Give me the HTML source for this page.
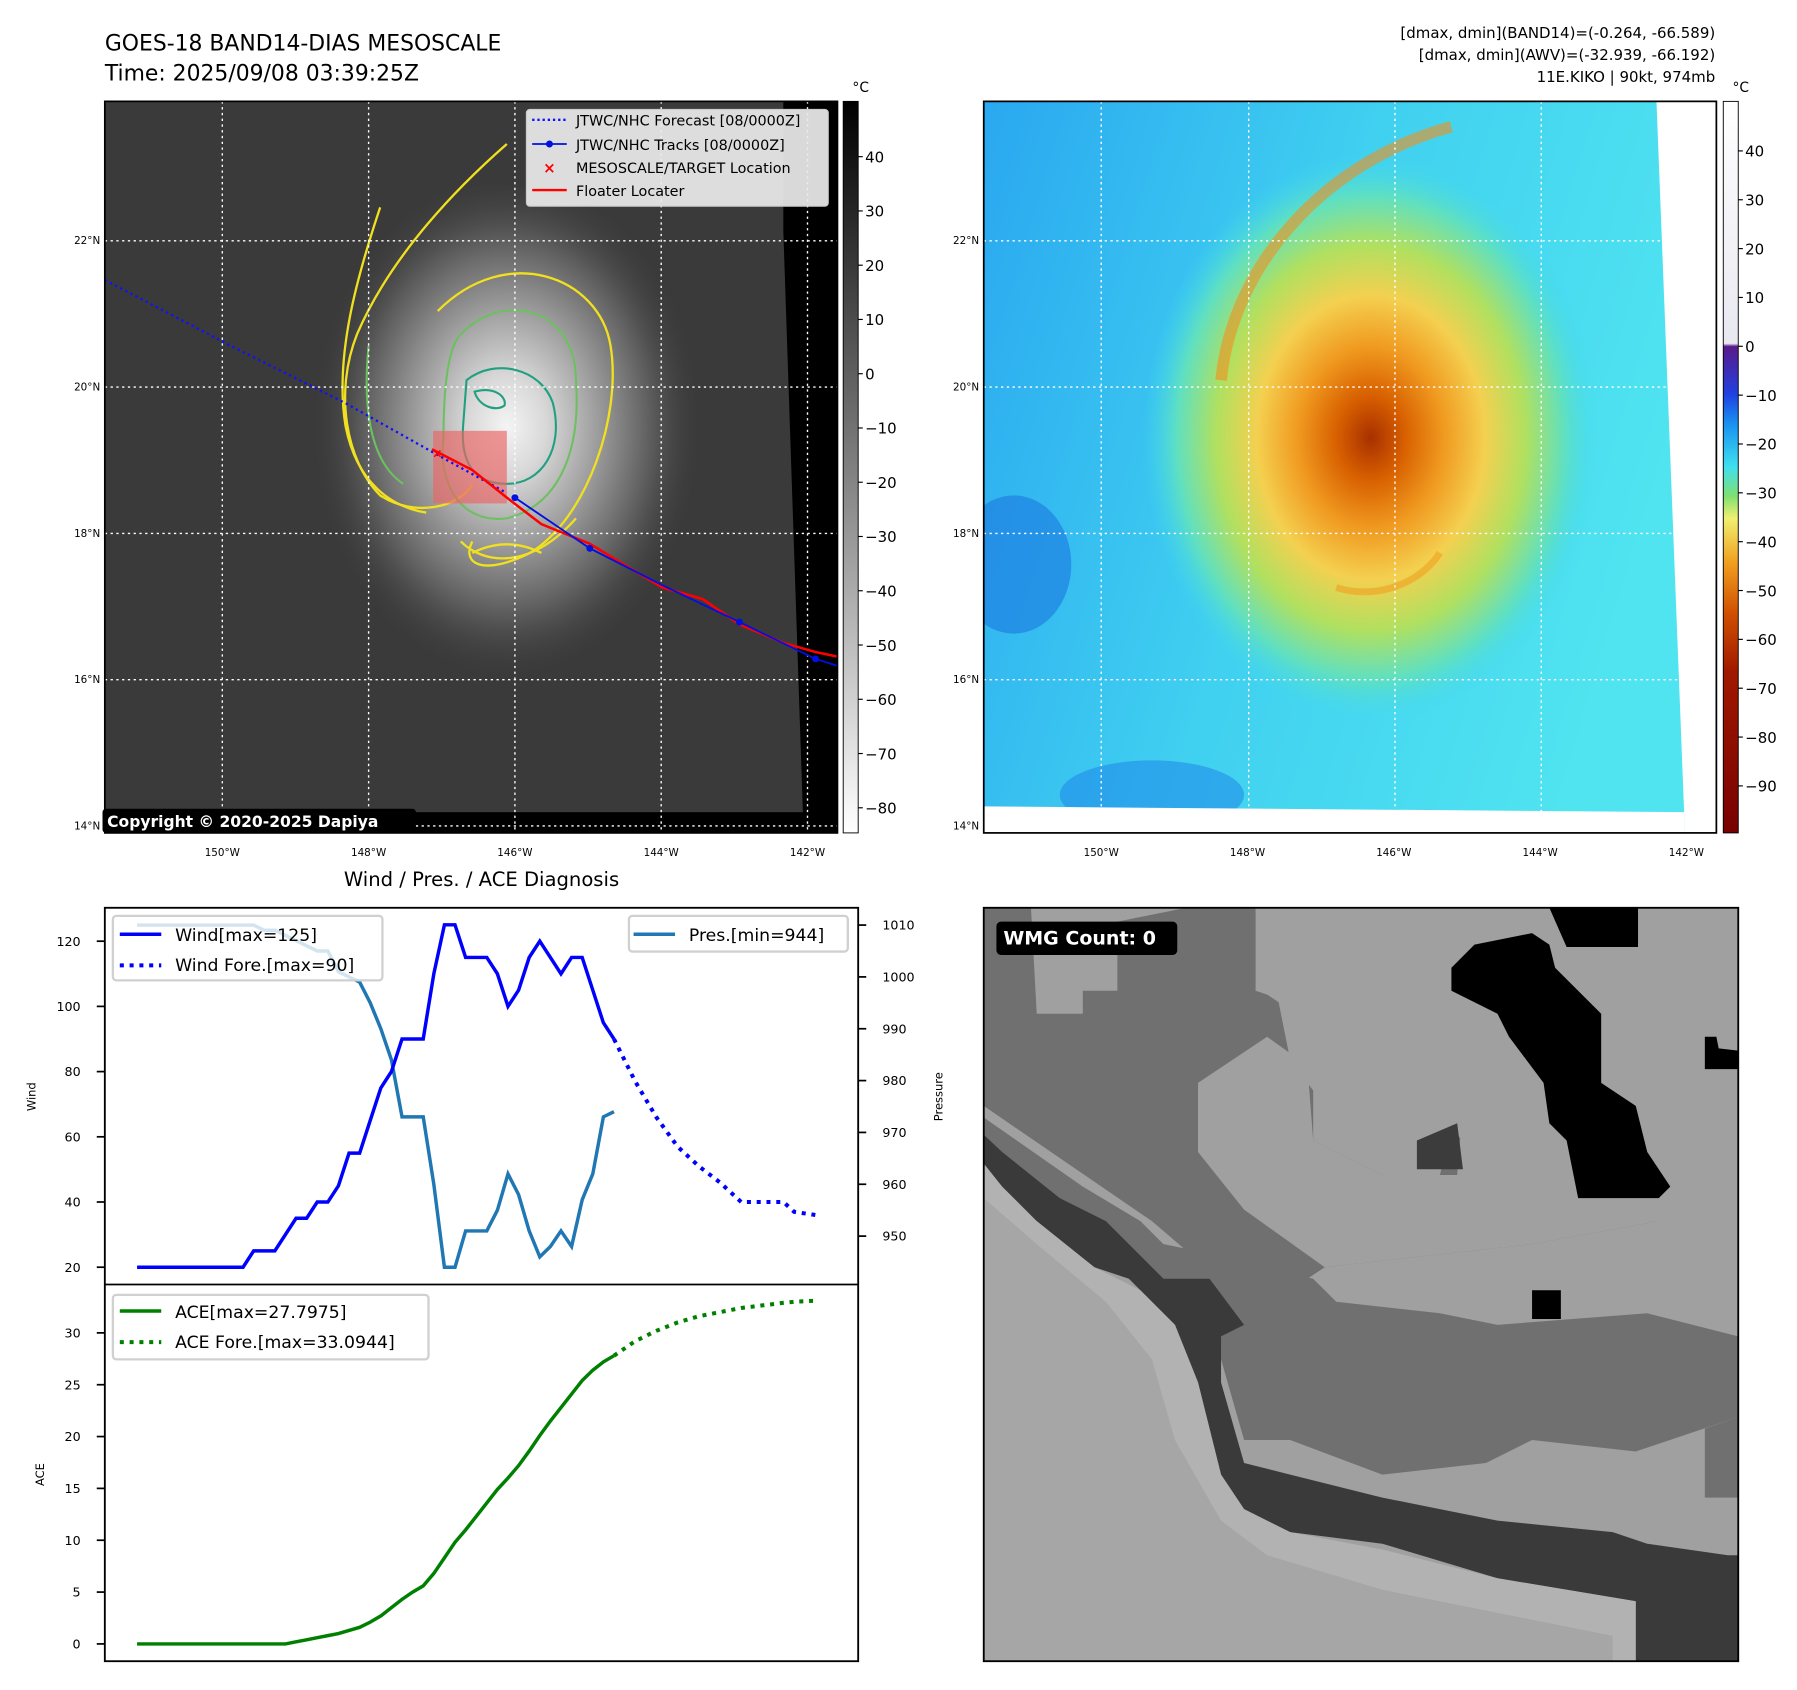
<!DOCTYPE html>
<html><head><meta charset="utf-8"><style>
html,body{margin:0;padding:0;background:#fff}
svg{display:block}
text{font-family:"DejaVu Sans","Liberation Sans",sans-serif}
</style></head><body>
<svg id="root" width="1797" height="1690" viewBox="0 0 1560 1467" preserveAspectRatio="none" xmlns="http://www.w3.org/2000/svg">
<defs>
<radialGradient id="cloudL" cx="440" cy="370" r="200" gradientUnits="userSpaceOnUse" gradientTransform="translate(440 370) scale(0.85 1.1) translate(-440 -370)">
<stop offset="0" stop-color="#f4f4f4"/><stop offset="0.2" stop-color="#d8d8d8"/><stop offset="0.45" stop-color="#a0a0a0"/><stop offset="0.75" stop-color="#5a5a5a"/><stop offset="1" stop-color="#3c3c3c" stop-opacity="0"/></radialGradient>
<radialGradient id="cloudR" cx="1190" cy="380" r="220" gradientUnits="userSpaceOnUse" gradientTransform="translate(1190 380) scale(0.9 1.12) translate(-1190 -380)">
<stop offset="0" stop-color="#a83000"/><stop offset="0.15" stop-color="#d86000"/><stop offset="0.32" stop-color="#f09a20"/><stop offset="0.5" stop-color="#f4d050"/><stop offset="0.68" stop-color="#b0e060"/><stop offset="0.85" stop-color="#60e0c0"/><stop offset="1" stop-color="#40d8f0" stop-opacity="0"/></radialGradient>
<linearGradient id="bgR" x1="0" y1="0" x2="1" y2="0.3"><stop offset="0" stop-color="#2aa8f0"/><stop offset="0.5" stop-color="#40d0f0"/><stop offset="1" stop-color="#50e4f0"/></linearGradient>
<linearGradient id="cbL" x1="0" y1="0" x2="0" y2="1"><stop offset="0" stop-color="#000"/><stop offset="1" stop-color="#fff"/></linearGradient>
<linearGradient id="cbR" x1="0" y1="0" x2="0" y2="1">
<stop offset="0" stop-color="#ffffff"/><stop offset="0.331" stop-color="#e8e8f0"/><stop offset="0.335" stop-color="#5a1a8a"/>
<stop offset="0.40" stop-color="#2040e0"/><stop offset="0.44" stop-color="#1890f0"/><stop offset="0.50" stop-color="#40e0f0"/><stop offset="0.54" stop-color="#80e070"/><stop offset="0.57" stop-color="#f0f070"/><stop offset="0.63" stop-color="#f0a020"/><stop offset="0.70" stop-color="#d05000"/><stop offset="0.78" stop-color="#a01800"/><stop offset="1" stop-color="#780000"/></linearGradient>
<clipPath id="clipL"><rect x="91" y="88" width="636" height="635"/></clipPath>
<clipPath id="clipR"><rect x="854" y="88" width="636" height="635"/></clipPath>
<clipPath id="clipC1"><rect x="91" y="788" width="654" height="327"/></clipPath>
</defs>

<text x="91" y="44" font-size="19">GOES-18 BAND14-DIAS MESOSCALE</text>
<text x="91" y="70" font-size="19">Time: 2025/09/08 03:39:25Z</text>
<g font-size="13" text-anchor="end">
<text x="1489" y="33">[dmax, dmin](BAND14)=(-0.264, -66.589)</text>
<text x="1489" y="52">[dmax, dmin](AWV)=(-32.939, -66.192)</text>
<text x="1489" y="71">11E.KIKO | 90kt, 974mb</text>
</g>

<g clip-path="url(#clipL)">
<rect x="91" y="88" width="636" height="635" fill="#3a3a3a"/>
<ellipse cx="430" cy="380" rx="200" ry="220" fill="url(#cloudL)"/>
<polygon points="680,88 727,88 727,723 697,723 697,705 680,200" fill="#000"/>
<rect x="91" y="705" width="636" height="18" fill="#000"/>
<g fill="none" stroke="#f0e020" stroke-width="2">
<path d="M440,125 C400,160 340,220 310,290 C290,340 300,400 330,430 C360,450 400,440 410,420" />
<path d="M330,180 C310,240 290,310 300,370 C310,420 340,440 370,445"/>
<path d="M380,270 C440,210 520,240 530,300 C540,360 510,450 460,480 C420,500 400,490 410,470" />
<path d="M400,470 C420,490 460,495 500,450"/>
<path d="M410,480 C430,470 450,470 470,480" />
</g>
<g fill="none" stroke="#6cc060" stroke-width="1.8">
<path d="M400,290 C440,250 500,270 500,330 C505,400 480,440 440,450 C400,455 380,420 385,380 C385,330 390,300 400,290"/>
<path d="M320,300 C315,350 320,400 350,420"/>
</g>
<g fill="none" stroke="#20a080" stroke-width="1.8">
<path d="M405,330 C430,310 470,320 480,350 C490,390 470,420 440,420 C410,420 400,400 402,370 Z"/>
<path d="M412,340 C430,335 440,345 438,352 C430,358 415,352 412,340 Z"/>
</g>
<g stroke="#fff" stroke-width="1.2" stroke-dasharray="2,3">
<line x1="193" y1="88" x2="193" y2="723"/><line x1="320" y1="88" x2="320" y2="723"/><line x1="447" y1="88" x2="447" y2="723"/><line x1="574" y1="88" x2="574" y2="723"/><line x1="701" y1="88" x2="701" y2="723"/>
<line x1="91" y1="209" x2="727" y2="209"/><line x1="91" y1="336" x2="727" y2="336"/><line x1="91" y1="463" x2="727" y2="463"/><line x1="91" y1="590" x2="727" y2="590"/><line x1="91" y1="717" x2="727" y2="717"/>
</g>
<rect x="376" y="374" width="64" height="63" fill="rgba(235,100,100,0.65)"/>
<polyline points="91,243 200,300 300,350 380,395 440,428" fill="none" stroke="#1010ff" stroke-width="2" stroke-dasharray="2,3"/>
<polyline points="375,390 410,408 440,432 470,455 512,472 545,492 575,510 610,520 642,542 680,558 708,566 727,570" fill="none" stroke="#f00" stroke-width="2.2"/>
<polyline points="447,432 512,476 575,508 642,540 708,572 727,578" fill="none" stroke="#0010e0" stroke-width="1.6"/>
<g fill="#0010e0"><circle cx="447" cy="432" r="3"/><circle cx="512" cy="476" r="3"/><circle cx="642" cy="540" r="3"/><circle cx="708" cy="572" r="3"/></g>
<text x="375" y="397" font-size="11" fill="#f00" font-weight="bold">×</text>
</g>
<rect x="91" y="88" width="636" height="635" fill="none" stroke="#000" stroke-width="1.5"/>
<g>
<rect x="457" y="95" width="262" height="84" rx="3" fill="rgba(235,235,235,0.92)" stroke="#ccc"/>
<line x1="462" y1="104" x2="492" y2="104" stroke="#1010ff" stroke-width="2" stroke-dasharray="2,2.5"/>
<line x1="462" y1="125" x2="492" y2="125" stroke="#0010e0" stroke-width="1.6"/><circle cx="477" cy="125" r="3" fill="#0010e0"/>
<text x="477" y="150" font-size="13" fill="#f00" font-weight="bold" text-anchor="middle">×</text>
<line x1="462" y1="165" x2="492" y2="165" stroke="#f00" stroke-width="2"/>
<g font-size="12.5"><text x="500" y="109">JTWC/NHC Forecast [08/0000Z]</text><text x="500" y="130">JTWC/NHC Tracks [08/0000Z]</text><text x="500" y="150">MESOSCALE/TARGET Location</text><text x="500" y="170">Floater Locater</text></g>
</g>
<g><rect x="89" y="702" width="272" height="21" rx="3" fill="#000"/><text x="93" y="718" font-size="13.5" font-weight="bold" fill="#fff">Copyright © 2020-2025 Dapiya</text></g>

<rect x="732" y="88" width="13" height="635" fill="url(#cbL)" stroke="#000" stroke-width="0.8"/>
<text x="740" y="80" font-size="12">°C</text>
<g id="cbLticks" font-size="13"></g>

<g clip-path="url(#clipR)">
<rect x="854" y="88" width="636" height="635" fill="url(#bgR)"/>
<ellipse cx="880" cy="490" rx="50" ry="60" fill="#1a78e0" opacity="0.6"/>
<ellipse cx="1000" cy="690" rx="80" ry="30" fill="#1a80e8" opacity="0.5"/>
<ellipse cx="1185" cy="370" rx="240" ry="280" fill="url(#cloudR)"/>
<path d="M1060,330 C1070,230 1150,140 1260,110" fill="none" stroke="#f09020" stroke-width="10" opacity="0.6"/>
<path d="M1250,480 C1230,510 1190,520 1160,510" fill="none" stroke="#f0a020" stroke-width="6" opacity="0.6"/>
<polygon points="1438,88 1490,88 1490,723 1462,723 1462,705" fill="#fff"/>
<polygon points="854,700 1462,705 1462,723 854,723" fill="#fff"/>
<g stroke="#fff" stroke-width="1.2" stroke-dasharray="2,3">
<line x1="956" y1="88" x2="956" y2="723"/><line x1="1084" y1="88" x2="1084" y2="723"/><line x1="1211" y1="88" x2="1211" y2="723"/><line x1="1338" y1="88" x2="1338" y2="723"/><line x1="1465" y1="88" x2="1465" y2="723"/>
<line x1="854" y1="209" x2="1490" y2="209"/><line x1="854" y1="336" x2="1490" y2="336"/><line x1="854" y1="463" x2="1490" y2="463"/><line x1="854" y1="590" x2="1490" y2="590"/><line x1="854" y1="717" x2="1490" y2="717"/>
</g>
</g>
<rect x="854" y="88" width="636" height="635" fill="none" stroke="#000" stroke-width="1.5"/>
<rect x="1496" y="88" width="13" height="635" fill="url(#cbR)" stroke="#000" stroke-width="0.8"/>
<text x="1504" y="80" font-size="12">°C</text>
<g id="cbRticks" font-size="13"></g>
<g id="mapAxes" font-size="9"></g>

<text x="418" y="769" font-size="17" text-anchor="middle">Wind / Pres. / ACE Diagnosis</text>
<g id="chart"></g>
<rect x="91" y="788" width="654" height="654" fill="none" stroke="#000" stroke-width="1.6"/>
<line x1="91" y1="1115" x2="745" y2="1115" stroke="#000" stroke-width="1.6"/>
<text transform="translate(31,952) rotate(-90)" font-size="10" text-anchor="middle">Wind</text>
<text transform="translate(818,952) rotate(-90)" font-size="10" text-anchor="middle">Pressure</text>
<text transform="translate(38,1280) rotate(-90)" font-size="10" text-anchor="middle">ACE</text>

<g>
<rect x="98" y="795" width="234" height="56" rx="3" fill="rgba(255,255,255,0.8)" stroke="#d0d0d0" stroke-width="2"/>
<line x1="104" y1="811" x2="140" y2="811" stroke="#0000ff" stroke-width="3"/>
<line x1="104" y1="838" x2="140" y2="838" stroke="#0000ff" stroke-width="3.5" stroke-dasharray="3.5,5"/>
<text x="152" y="817" font-size="15">Wind[max=125]</text><text x="152" y="843" font-size="15">Wind Fore.[max=90]</text>
</g>
<g>
<rect x="546" y="795" width="190" height="31" rx="3" fill="rgba(255,255,255,0.8)" stroke="#d0d0d0" stroke-width="2"/>
<line x1="550" y1="811" x2="586" y2="811" stroke="#1f77b4" stroke-width="3"/>
<text x="598" y="817" font-size="15">Pres.[min=944]</text>
</g>
<g>
<rect x="98" y="1124" width="274" height="56" rx="3" fill="rgba(255,255,255,0.8)" stroke="#d0d0d0" stroke-width="2"/>
<line x1="104" y1="1138" x2="140" y2="1138" stroke="#008000" stroke-width="3"/>
<line x1="104" y1="1165" x2="140" y2="1165" stroke="#008000" stroke-width="3.5" stroke-dasharray="3.5,5"/>
<text x="152" y="1144" font-size="15">ACE[max=27.7975]</text><text x="152" y="1170" font-size="15">ACE Fore.[max=33.0944]</text>
</g>

<g>
<rect x="854" y="788" width="655" height="654" fill="#a0a0a0"/>
<polygon points="854,788 895,788 900,880 940,880 940,860 970,860 970,800 1030,788 1090,788 1090,860 1120,870 1140,920 1140,990 1200,1020 1250,1020 1260,980 1290,1010 1300,1030 1440,1030 1440,1060 1330,1080 1150,1100 1120,1120 1100,1150 1070,1120 1000,1060 854,960" fill="#707070"/>
<polygon points="1090,788 1095,860 1110,870 1120,920 1150,960 1180,930 1230,940 1270,960 1265,1020 1200,1020 1140,990 1135,925 1100,900 1040,940 1040,1000 1080,1050 1150,1100 1330,1080 1440,1060 1509,1040 1509,788 1422,788 1422,820 1380,820 1300,830 1250,850" fill="#a0a0a0"/>
<polygon points="1230,990 1265,975 1270,1015 1230,1015" fill="#3c3c3c"/>
<polygon points="1280,820 1330,810 1345,820 1350,840 1390,880 1390,940 1420,960 1430,1000 1450,1030 1440,1040 1370,1040 1360,990 1345,975 1340,940 1310,900 1300,880 1260,860 1260,840" fill="#000"/>
<polygon points="1345,788 1422,788 1422,822 1360,822" fill="#000"/>
<polygon points="1480,900 1490,900 1492,910 1509,912 1509,928 1480,928" fill="#000"/>
<polygon points="1330,1120 1355,1120 1355,1145 1330,1145" fill="#000"/>
<polygon points="854,970 940,1030 990,1060 1010,1080 1060,1090 1140,1110 1160,1130 1250,1140 1300,1150 1430,1140 1509,1160 1509,1230 1420,1260 1330,1250 1290,1270 1200,1280 1120,1250 1080,1250 1060,1180 1040,1120 990,1110 940,1080 854,1020" fill="#707070"/>
<polygon points="854,985 870,1000 920,1040 960,1060 1000,1100 1010,1110 1050,1110 1080,1150 1060,1160 1060,1200 1080,1270 1120,1280 1200,1300 1250,1310 1300,1320 1400,1330 1430,1340 1500,1350 1509,1350 1509,1442 1420,1442 1420,1390 1300,1370 1200,1340 1120,1330 1080,1310 1060,1280 1040,1200 1020,1150 980,1110 950,1100 900,1060 854,1040" fill="#3a3a3a"/>
<polygon points="1480,1240 1509,1230 1509,1300 1480,1300" fill="#707070"/>
<polygon points="854,1010 870,1030 900,1060 950,1100 990,1120 1020,1150 1040,1200 1060,1280 1080,1310 1120,1330 1200,1345 1300,1370 1420,1390 1420,1442 854,1442" fill="#b2b2b2"/>
<polygon points="854,1040 900,1080 960,1130 1000,1180 1020,1250 1060,1320 1100,1350 1200,1380 1300,1400 1400,1420 1400,1442 854,1442" fill="#a6a6a6"/>
<rect x="865" y="800" width="157" height="29" rx="4" fill="#000"/>
<text x="871" y="820" font-size="16.5" font-weight="bold" fill="#fff">WMG Count: 0</text>
<rect x="854" y="788" width="655" height="654" fill="none" stroke="#000" stroke-width="1.6"/>
</g>
</svg>
<script>
const NS="http://www.w3.org/2000/svg";
const windObs=[20,20,20,20,20,20,20,20,20,20,20,25,25,25,30,35,35,40,40,45,55,55,65,75,80,90,90,90,110,125,125,115,115,115,110,100,105,115,120,115,110,115,115,105,95,90];
const presObs=[1010,1010,1010,1010,1010,1010,1010,1010,1010,1010,1010,1010,1009,1009,1008,1007,1006,1005,1005,1001,1000,999,995,990,984,973,973,973,960,944,944,951,951,951,955,962,958,951,946,948,951,948,957,962,973,974];
const aceObs=[0,0,0,0,0,0,0,0,0,0,0,0,0,0,0,0.2,0.4,0.6,0.8,1.0,1.3,1.6,2.1,2.7,3.5,4.3,5.0,5.6,6.8,8.3,9.8,11.0,12.3,13.6,14.9,16.0,17.2,18.6,20.1,21.5,22.8,24.1,25.4,26.4,27.2,27.8];
const foreSteps=[45,47,49,51,53,55,57,61,62,64];
const windFore=[90,77,66,57,51,46,40,40,37,36];
const aceFore=[27.8,29.2,30.2,31.0,31.6,32.0,32.4,32.9,33.0,33.1];
const windTicks=[20,40,60,80,100,120];
const presTicks=[950,960,970,980,990,1000,1010];
const aceTicks=[0,5,10,15,20,25,30];
const xS=i=>119+i*9.2;
const yW=v=>1100-(v-20)*2.83;
const yP=v=>803+(1010-v)*4.5;
const yA=v=>1427-v*9.0;
const chart=document.getElementById('chart');
function mk(tag,attrs,parent){const e=document.createElementNS(NS,tag);for(const k in attrs)e.setAttribute(k,attrs[k]);(parent||chart).appendChild(e);return e;}
function pts(xs,ys,fy){return xs.map((x,i)=>xS(x).toFixed(1)+','+fy(ys[i]).toFixed(1)).join(' ');}
const idx=windObs.map((_,i)=>i);
let g=mk('g',{'clip-path':'url(#clipC1)'});
let l=mk('polyline',{points:pts(idx,presObs,yP),fill:'none',stroke:'#1f77b4','stroke-width':3},g);


l=mk('polyline',{points:pts(idx,windObs,yW),fill:'none',stroke:'#0000ff','stroke-width':3},g);


l=mk('polyline',{points:pts(foreSteps,windFore,yW),fill:'none',stroke:'#0000ff','stroke-width':3.5,'stroke-dasharray':'3.5,5'},g);


l=mk('polyline',{points:pts(idx,aceObs,yA),fill:'none',stroke:'#008000','stroke-width':3});


l=mk('polyline',{points:pts(foreSteps,aceFore,yA),fill:'none',stroke:'#008000','stroke-width':3.5,'stroke-dasharray':'3.5,5'});


windTicks.forEach(v=>{const y=yW(v);mk('line',{x1:84,x2:91,y1:y,y2:y,stroke:'#000','stroke-width':1.5});const t=mk('text',{x:70,y:y+4,'font-size':11,'text-anchor':'end'});t.textContent=v;

});
presTicks.forEach(v=>{const y=yP(v);mk('line',{x1:745,x2:752,y1:y,y2:y,stroke:'#000','stroke-width':1.5});const t=mk('text',{x:766,y:y+4,'font-size':11});t.textContent=v;

});
aceTicks.forEach(v=>{const y=yA(v);mk('line',{x1:84,x2:91,y1:y,y2:y,stroke:'#000','stroke-width':1.5});const t=mk('text',{x:70,y:y+4,'font-size':11,'text-anchor':'end'});t.textContent=v;

});
const cbLvals=[40,30,20,10,0,-10,-20,-30,-40,-50,-60,-70,-80];
const cbRvals=[40,30,20,10,0,-10,-20,-30,-40,-50,-60,-70,-80,-90];
const cbL=document.getElementById('cbLticks'),cbR=document.getElementById('cbRticks');
cbLvals.forEach(v=>{const y=136+(40-v)*4.71;mk('line',{x1:745,x2:749,y1:y,y2:y,stroke:'#000'},cbL);const t=mk('text',{x:751,y:y+5},cbL);t.textContent=(v<0?'\u2212'+(-v):v);

});
cbRvals.forEach(v=>{const y=131+(40-v)*4.24;mk('line',{x1:1509,x2:1513,y1:y,y2:y,stroke:'#000'},cbR);const t=mk('text',{x:1515,y:y+5},cbR);t.textContent=(v<0?'\u2212'+(-v):v);

});
const ma=document.getElementById('mapAxes');
const lonLabels=['150°W','148°W','146°W','144°W','142°W'],latLabels=['22°N','20°N','18°N','16°N','14°N'];
[91,854].forEach((x0,k)=>{
 lonLabels.forEach((s,i)=>{const t=mk('text',{x:x0+102+i*127,y:743,'text-anchor':'middle'},ma);t.textContent=s;
 
 });
 latLabels.forEach((s,i)=>{const t=mk('text',{x:x0-4,y:212+i*127,'text-anchor':'end'},ma);t.textContent=s;
 
 });
});
</script>
</body></html>
